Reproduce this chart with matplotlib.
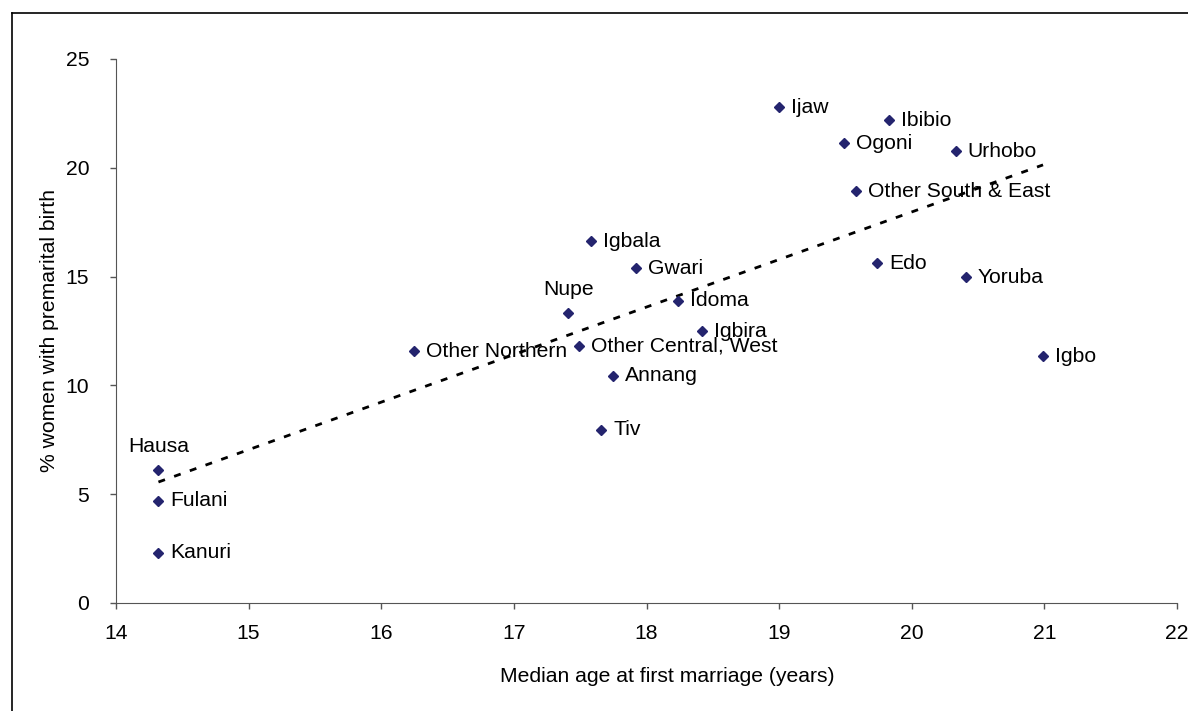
import matplotlib.pyplot as plt
import numpy as np
from matplotlib.lines import Line2D

plt.rcParams['font.family'] = ['Liberation Sans', 'DejaVu Sans']

# DATA
groups = ["Hausa", "Fulani", "Kanuri", "Other Northern", "Nupe", "Other Central, West",
          "Igbala", "Gwari", "Idoma", "Igbira", "Annang", "Tiv", "Ijaw", "Ibibio",
          "Ogoni", "Urhobo", "Other South & East", "Edo", "Yoruba", "Igbo"]
age = np.array([14.32, 14.32, 14.32, 16.25, 17.41, 17.49, 17.58, 17.92, 18.24, 18.42,
                17.75, 17.66, 19.00, 19.83, 19.49, 20.33, 19.58, 19.74, 20.41, 20.99])
pct = np.array([6.12, 4.70, 2.30, 11.56, 13.31, 11.83, 16.62, 15.38, 13.90, 12.48,
                10.45, 7.97, 22.79, 22.19, 21.13, 20.76, 18.92, 15.61, 14.96, 11.33])
above = ["Hausa", "Nupe"]  # labels placed over the marker

fs = 15.2

fig = plt.figure(figsize=(11.88, 7.11), dpi=100)
ax = fig.add_axes([116/1188, 108/711, 1061/1188, 544/711])

ax.plot(age, pct, linestyle='none', marker='D', markersize=5, color='#24246e', zorder=3)

# linear trend
k, b = np.polyfit(age, pct, 1)
xs = np.array([age.min(), age.max()])
ax.plot(xs, k*xs + b, color='black', linestyle=(0, (2.5, 3.5)), linewidth=2)

for name, xv, yv in zip(groups, age, pct):
    if name in above:
        ax.annotate(name, (xv, yv), xytext=(0, 10), textcoords='offset points',
                    ha='center', va='bottom', fontsize=fs)
    else:
        ax.annotate(name, (xv, yv), xytext=(8.5, 0), textcoords='offset points',
                    ha='left', va='center', fontsize=fs)

ax.set_xlim(14, 22)
ax.set_ylim(0, 25)
ax.set_xticks(range(14, 23))
ax.set_yticks(range(0, 26, 5))
ax.tick_params(direction='out', length=4.3, width=1, colors='#555555', labelcolor='black',
               labelsize=fs)
ax.tick_params(axis='x', pad=11)
ax.tick_params(axis='y', pad=15)
for s in ['top', 'right']:
    ax.spines[s].set_visible(False)
for s in ['left', 'bottom']:
    ax.spines[s].set_color('#555555')
ax.set_xlabel('Median age at first marriage (years)', fontsize=fs)
ax.xaxis.set_label_coords((667 - 116) / 1061, -0.118)
ax.set_ylabel('% women with premarital birth', fontsize=fs, labelpad=5)

# figure border (left + top)
fig.add_artist(Line2D([12/1188, 12/1188], [0, 1 - 13/711], color='black', linewidth=1.2))
fig.add_artist(Line2D([12/1188, 1], [1 - 13/711, 1 - 13/711], color='black', linewidth=1.2))

fig.savefig('out.png', dpi=100)
